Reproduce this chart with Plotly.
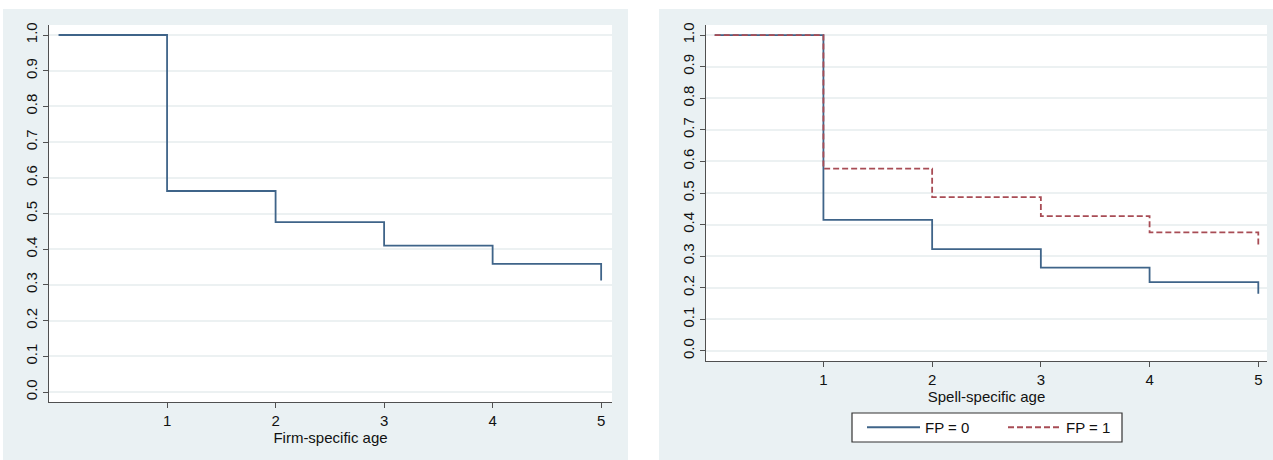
import plotly.graph_objects as go

# ---- data ----
times = [0, 1, 2, 3, 4, 5]
surv_firm = [1.0, 0.563, 0.476, 0.410, 0.359, 0.312]
surv_fp0 = [1.0, 0.415, 0.322, 0.264, 0.218, 0.181]
surv_fp1 = [1.0, 0.577, 0.487, 0.427, 0.375, 0.335]
y_ticks = [0.0, 0.1, 0.2, 0.3, 0.4, 0.5, 0.6, 0.7, 0.8, 0.9, 1.0]
y_ticklabels = [f"{v:.1f}" for v in y_ticks]
x_ticks = [1, 2, 3, 4, 5]
left_xtitle = "Firm-specific age"
right_xtitle = "Spell-specific age"
legend_names = ["FP = 0", "FP = 1"]

W, H = 1273, 460
BLUE = "#3f6489"
RED = "#a84c55"
PANEL = "#eaf1f3"
GRID = "#ecf1f2"
AXIS = "#505050"
FONT = "Liberation Sans, Arial, sans-serif"

fig = go.Figure()
fig.add_trace(go.Scatter(x=times, y=surv_firm, mode="lines", line_shape="hv",
                         line=dict(color=BLUE, width=1.8), showlegend=False,
                         xaxis="x", yaxis="y"))
fig.add_trace(go.Scatter(x=times, y=surv_fp0, mode="lines", line_shape="hv",
                         line=dict(color=BLUE, width=1.8), name=legend_names[0],
                         xaxis="x2", yaxis="y2"))
fig.add_trace(go.Scatter(x=times, y=surv_fp1, mode="lines", line_shape="hv",
                         line=dict(color=RED, width=1.8, dash="6px,3px"), name=legend_names[1],
                         xaxis="x2", yaxis="y2"))

def px_x(p):
    return p / W

def px_y(p):
    return 1 - p / H

common_x = dict(showline=True, linecolor=AXIS, linewidth=1.3, ticks="outside",
                ticklen=5, tickcolor=AXIS, tickwidth=1.2, showgrid=False, zeroline=False,
                tickvals=x_ticks, tickfont=dict(size=15, color="#111", family=FONT),
                automargin=False, fixedrange=True)
common_y = dict(showline=True, linecolor=AXIS, linewidth=1.3, ticks="outside",
                ticklen=5, tickcolor=AXIS, tickwidth=1.2, showgrid=True, gridcolor=GRID,
                gridwidth=1.6, zeroline=False, tickvals=y_ticks, ticktext=y_ticklabels,
                tickangle=-90, tickfont=dict(size=15, color="#111", family=FONT),
                automargin=False, fixedrange=True)

fig.update_layout(
    width=W, height=H,
    margin=dict(l=0, r=0, t=0, b=0),
    paper_bgcolor="white", plot_bgcolor="rgba(0,0,0,0)",
    font=dict(family=FONT, size=15, color="#111"),
    xaxis=dict(domain=[px_x(49), px_x(612)], range=[-0.088, 5.1], anchor="y",
               title=dict(text=left_xtitle, standoff=2, font=dict(size=15)), **common_x),
    yaxis=dict(domain=[px_y(402), px_y(25)], range=[-0.028, 1.028], anchor="x", **common_y),
    xaxis2=dict(domain=[px_x(706), px_x(1267)], range=[-0.08, 5.08], anchor="y2",
                title=dict(text=right_xtitle, standoff=2, font=dict(size=15)), **common_x),
    yaxis2=dict(domain=[px_y(361), px_y(25)], range=[-0.032, 1.032], anchor="x2", **common_y),
    legend=dict(orientation="h", x=px_x(862), y=px_y(427.5), xanchor="left", yanchor="middle",
                borderwidth=0, bgcolor="rgba(0,0,0,0)",
                font=dict(size=15, color="#111"), itemwidth=53,
                entrywidth=73, entrywidthmode="pixels"),
    shapes=[
        dict(type="rect", xref="paper", yref="paper", x0=px_x(3), x1=px_x(628),
             y0=0, y1=px_y(9), fillcolor=PANEL, line_width=0, layer="below"),
        dict(type="rect", xref="paper", yref="paper", x0=px_x(659), x1=1,
             y0=0, y1=px_y(9), fillcolor=PANEL, line_width=0, layer="below"),
        dict(type="rect", xref="x domain", yref="y domain", x0=0, x1=1, y0=0, y1=1,
             fillcolor="white", line_width=0, layer="below"),
        dict(type="rect", xref="x2 domain", yref="y2 domain", x0=0, x1=1, y0=0, y1=1,
             fillcolor="white", line_width=0, layer="below"),
        dict(type="rect", xref="paper", yref="paper", x0=px_x(852), x1=px_x(1122),
             y0=px_y(442), y1=px_y(413), fillcolor="white",
             line=dict(color="#333", width=1.2), layer="below"),
    ],
)

fig.write_html("out.html", config={"displayModeBar": False},
               post_script="document.body.style.margin='0';")
